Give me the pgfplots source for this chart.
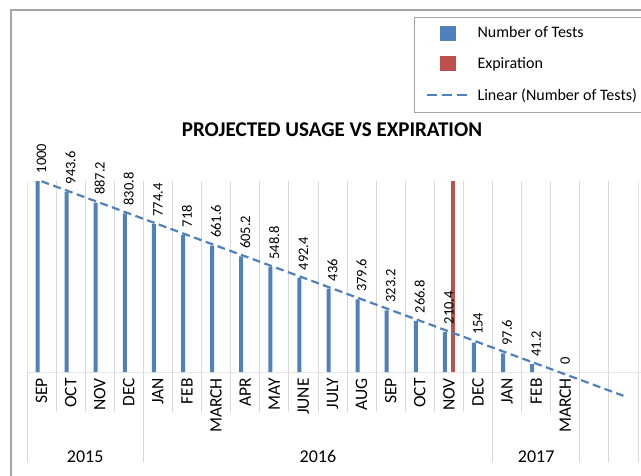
\documentclass[border=0pt]{standalone}
\usepackage{pgfplots}
\pgfplotsset{compat=1.18}
\usepackage{fontspec}
\setmainfont{Carlito}
\definecolor{tblue}{RGB}{79,129,189}
\definecolor{tred}{RGB}{192,80,77}
\definecolor{gridc}{RGB}{217,217,217}
\definecolor{bordc}{RGB}{165,165,165}
\begin{document}
\begin{tikzpicture}[x=1pt,y=1pt]
\useasboundingbox (0,0) rectangle (641,475);
\clip (0,0) rectangle (641,475);
\fill[white] (0,0) rectangle (641,475);
\draw[bordc, line width=1.3pt] (11,-5) -- (11,465) -- (700,465);
\node[font=\bfseries\fontsize{21}{21}\selectfont, anchor=base] at (332,338) {PROJECTED USAGE VS EXPIRATION};
\begin{axis}[
  at={(27pt,103pt)}, anchor=south west, scale only axis,
  width=611pt, height=191pt,
  xmin=0.5, xmax=21.5, ymin=0, ymax=1000, clip=false,
  axis line style={draw=none}, ytick=\empty,
  xtick={1,...,19},
  xticklabels={SEP,OCT,NOV,DEC,JAN,FEB,MARCH,APR,MAY,JUNE,JULY,AUG,SEP,OCT,NOV,DEC,JAN,FEB,MARCH},
  major tick length=0pt,
  xticklabel style={rotate=90, anchor=east, inner sep=0pt, inner xsep=6pt, font=\fontsize{17.5}{17.5}\selectfont},
  /pgf/number format/assume math mode=true,
  /pgf/number format/1000 sep={},
  legend style={at={(0.6334,1.8586)}, anchor=north west, draw=bordc, line width=0.8pt,
    inner xsep=10pt, inner ysep=0.5pt, row sep=0pt,
    font=\fontsize{16}{16}\selectfont, nodes={inner sep=0pt}},
  legend cell align=left,
]
\pgfplotsinvokeforeach{0,...,21}{
  \draw[gridc, line width=0.9pt] (axis cs:#1.5,1000) -- (axis cs:#1.5,0) -- ++(0pt,-40pt);
}
\pgfplotsinvokeforeach{0,4,16,19,20,21}{
  \draw[gridc, line width=0.9pt] (axis cs:#1.5,0) -- ++(0pt,-90pt);
}
\draw[gridc, line width=0.9pt] (axis cs:0.5,0) -- (axis cs:21.5,0) -- ++(20pt,0pt);

\addplot[ybar, bar width=4pt, bar shift=-4pt, fill=tblue, draw=none,
  nodes near coords,
  nodes near coords style={rotate=90, anchor=west, inner sep=0pt, inner xsep=7.5pt,
    font=\fontsize{14.5}{14.5}\selectfont, text=black},
  legend image code/.code={\fill[tblue] (14pt,-7.5pt) rectangle (30pt,7.5pt); \path (0pt,-15.25pt) (51pt,15.25pt);}]
  coordinates {(1,1000) (2,943.6) (3,887.2) (4,830.8) (5,774.4) (6,718) (7,661.6) (8,605.2) (9,548.8) (10,492.4) (11,436) (12,379.6) (13,323.2) (14,266.8) (15,210.4) (16,154) (17,97.6) (18,41.2) (19,0)};
\addlegendentry{Number of Tests}
\addplot[ybar, bar width=4pt, bar shift=4pt, fill=tred, draw=none,
  legend image code/.code={\fill[tred] (14pt,-7.5pt) rectangle (30pt,7.5pt); \path (0pt,-15.25pt) (51pt,15.25pt);}]
  coordinates {(15,1000)};
\addlegendentry{Expiration}
\addplot[tblue, line width=2.2pt, dash pattern=on 8pt off 4.5pt,
  legend image code/.code={\draw[tblue, line width=2.2pt, dash pattern=on 10pt off 5pt] (1pt,0pt) -- (45pt,0pt); \path (0pt,-15.25pt) (51pt,15.25pt);}]
  coordinates {(1,998.64) (21,-124.56)};
\addlegendentry{Linear (Number of Tests)}

\node[anchor=base, yshift=-90pt, font=\fontsize{18}{18}\selectfont] at (axis cs:2.5,0) {2015};
\node[anchor=base, yshift=-90pt, font=\fontsize{18}{18}\selectfont] at (axis cs:10.5,0) {2016};
\node[anchor=base, yshift=-90pt, font=\fontsize{18}{18}\selectfont] at (axis cs:18,0) {2017};
\end{axis}
\end{tikzpicture}
\end{document}
